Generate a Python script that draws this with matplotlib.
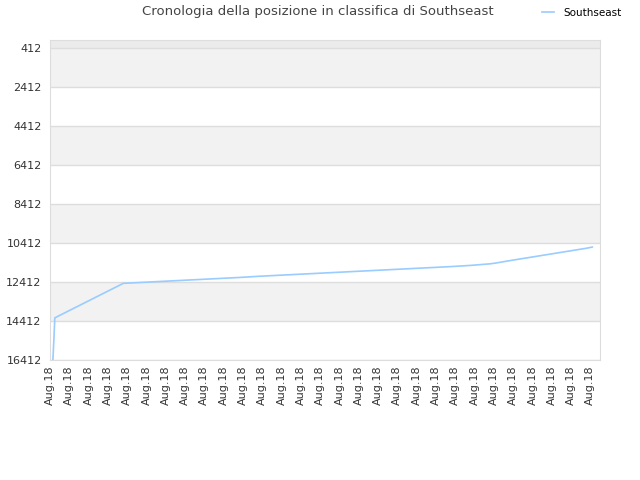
import matplotlib
matplotlib.use('Agg')
import matplotlib.pyplot as plt

# positions in tick units (each tick = one "Aug.18" label)
days = [0.15, 0.2, 0.25, 3.8, 4.8, 5.8, 6.8, 7.8, 8.8, 9.8, 10.8, 11.8, 12.8,
        13.8, 14.8, 15.8, 16.8, 17.8, 18.8, 19.8, 20.8, 21.8, 22.8, 23.1,
        23.8, 24.8, 25.8, 26.8, 27.8, 28.1]
ranks = [16412, 15390, 14250, 12480, 12430, 12380, 12330, 12280, 12230,
         12180, 12120, 12070, 12020, 11970, 11920, 11870, 11820, 11770,
         11720, 11670, 11620, 11560, 11480, 11440, 11320, 11160, 11000,
         10840, 10680, 10620]
xlabels = ['Aug.18'] * 29
yticks = [412, 2412, 4412, 6412, 8412, 10412, 12412, 14412, 16412]

fig = plt.figure(figsize=(6.4, 4.8), dpi=100)
ax = fig.add_axes([50/640, 1-360/480, 550/640, 320/480])

# alternating bands
ax.axhspan(0, 412, color='#ebebeb', zorder=0, lw=0)
for i in range(len(yticks) - 1):
    if i % 2 == 0:
        ax.axhspan(yticks[i], yticks[i+1], color='#f2f2f2', zorder=0, lw=0)

ax.plot(days, ranks, color='#99ccff', lw=1.2, label='Southseast', zorder=3)

ax.set_ylim(16412, 0)
ax.set_xlim(0, 28.5)
ax.set_yticks(yticks)
ax.set_yticklabels([str(t) for t in yticks])
ax.set_xticks(range(len(xlabels)))
ax.set_xticklabels(xlabels, rotation=90)
ax.grid(axis='y', color='#dddddd', lw=1)
ax.set_axisbelow(True)
ax.tick_params(length=0, labelsize=8, colors='#333333', pad=6)
ax.tick_params(axis='x', pad=4)
for s in ax.spines.values():
    s.set_color('#dddddd')

fig.text(0.497, 0.975, 'Cronologia della posizione in classifica di Southseast',
         ha='center', va='center', fontsize=9.5, color='#444444')
fig.legend(loc='center', bbox_to_anchor=(0.909, 0.973), frameon=False,
           fontsize=7.5, handlelength=1.2, handletextpad=0.9)

fig.savefig('out.png')
